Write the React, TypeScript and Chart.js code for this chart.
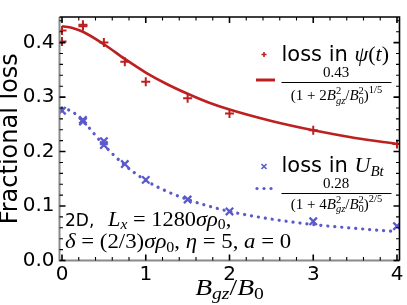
import { useEffect, useRef } from "react";
import { Chart, registerables } from "chart.js";

Chart.register(...registerables);

// Measured points (x = B_gz/B_0)
const psiX = [0, 0, 0.25, 0.25, 0.5, 0.75, 1, 1.5, 2, 3, 4];
const psiY = [0.402, 0.422, 0.430, 0.433, 0.400, 0.365, 0.328, 0.298, 0.270, 0.239, 0.214];
const ubtX = [0, 0.25, 0.25, 0.5, 0.5, 0.75, 1, 1.5, 2, 3, 4];
const ubtY = [0.275, 0.255, 0.258, 0.212, 0.219, 0.177, 0.148, 0.112, 0.090, 0.072, 0.063];

// Fit curves
const fitX = [0, 0.125, 0.25, 0.5, 0.75, 1, 1.25, 1.5, 1.75, 2, 2.5, 3, 3.5, 4];
const psiFit = [0.430, 0.427, 0.420, 0.397, 0.370, 0.345, 0.324, 0.306, 0.290, 0.277, 0.256, 0.239, 0.225, 0.214];
const ubtFit = [0.280, 0.273, 0.256, 0.212, 0.175, 0.147, 0.127, 0.112, 0.100, 0.090, 0.076, 0.066, 0.059, 0.053];

const xTicks = [0, 1, 2, 3, 4];
const xMinor = [0.2, 0.4, 0.6, 0.8, 1.2, 1.4, 1.6, 1.8, 2.2, 2.4, 2.6, 2.8, 3.2, 3.4, 3.6, 3.8];
const yTicks = [0, 0.1, 0.2, 0.3, 0.4];
const yMinor = [0.02, 0.04, 0.06, 0.08, 0.12, 0.14, 0.16, 0.18, 0.22, 0.24, 0.26, 0.28, 0.32, 0.34, 0.36, 0.38, 0.42, 0.44];

const RED = "#bd2020";
const BLUE = "#5a5acd";
const SANS = '"DejaVu Sans"';
const SERIF = '"Liberation Serif"';

const rm = (s: number) => `${s}px ${SERIF}`;
const it = (s: number) => `italic ${s}px ${SERIF}`;
const sans = (s: number) => `${s}px ${SANS}`;

type Run = { t: string; f: string; dy?: number; ov?: boolean };

function drawRuns(ctx: CanvasRenderingContext2D, x0: number, y: number, runs: Run[], align: string = "left", k: number = 1) {
  const ws = runs.map((r) => {
    ctx.font = r.f;
    return ctx.measureText(r.t).width * k;
  });
  const pos: number[] = [];
  let x = 0;
  let prevStart = 0;
  let prevW = 0;
  runs.forEach((r, i) => {
    if (r.ov) {
      pos.push(prevStart);
      prevW = Math.max(prevW, ws[i]);
      x = prevStart + prevW;
    } else {
      pos.push(x);
      prevStart = x;
      prevW = ws[i];
      x += ws[i];
    }
  });
  const off = align === "center" ? x0 - x / 2 : align === "right" ? x0 - x : x0;
  ctx.textBaseline = "alphabetic";
  ctx.textAlign = "left";
  runs.forEach((r, i) => {
    ctx.save();
    ctx.font = r.f;
    ctx.translate(off + pos[i], y + (r.dy || 0));
    ctx.scale(k, 1);
    ctx.fillText(r.t, 0, 0);
    ctx.restore();
  });
  return x;
}

const decor = {
  id: "decor",
  afterDatasetsDraw(chart: any) {
    const ctx: CanvasRenderingContext2D = chart.ctx;
    const { left, right, top, bottom } = chart.chartArea;
    const xs = chart.scales.x;
    const ys = chart.scales.y;
    ctx.save();

    // spines
    ctx.lineCap = "butt";
    ctx.strokeStyle = "#8a8a8a";
    ctx.lineWidth = 2;
    ctx.beginPath();
    ctx.moveTo(left, top);
    ctx.lineTo(left, bottom);
    ctx.lineTo(right, bottom);
    ctx.stroke();
    ctx.strokeStyle = "#000";
    ctx.lineWidth = 1.6;
    ctx.beginPath();
    ctx.moveTo(left, top);
    ctx.lineTo(right, top);
    ctx.lineTo(right, bottom);
    ctx.stroke();

    // inward ticks
    ctx.strokeStyle = "#000";
    const tick = (vals: number[], len: number, w: number) => {
      ctx.lineWidth = w;
      ctx.beginPath();
      vals.forEach((v) => {
        const px = xs.getPixelForValue(v);
        ctx.moveTo(px, bottom);
        ctx.lineTo(px, bottom - len);
        ctx.moveTo(px, top);
        ctx.lineTo(px, top + len);
      });
      ctx.stroke();
    };
    const tickY = (vals: number[], len: number, w: number) => {
      ctx.lineWidth = w;
      ctx.beginPath();
      vals.forEach((v) => {
        const py = ys.getPixelForValue(v);
        ctx.moveTo(left, py);
        ctx.lineTo(left + len, py);
        ctx.moveTo(right, py);
        ctx.lineTo(right - len, py);
      });
      ctx.stroke();
    };
    tick(xTicks, 6, 1.6);
    tick(xMinor, 3.5, 1.1);
    tickY(yTicks, 6, 1.6);
    tickY(yMinor, 3.5, 1.1);

    ctx.fillStyle = "#000";
    // y title
    ctx.save();
    ctx.translate(17, (top + bottom) / 2);
    ctx.rotate(-Math.PI / 2);
    ctx.font = sans(24);
    ctx.textAlign = "center";
    ctx.textBaseline = "alphabetic";
    ctx.fillText("Fractional loss", 0, 0);
    ctx.restore();

    // x title
    drawRuns(ctx, (left + right) / 2, 294.5, [
      { t: "B", f: it(24) },
      { t: "gz", f: it(17), dy: 4.5 },
      { t: "/", f: rm(24) },
      { t: "B", f: it(24) },
      { t: "0", f: rm(17), dy: 4.5 },
    ], "center", 1.15);

    // legend entry 1
    ctx.strokeStyle = RED;
    ctx.lineWidth = 1.6;
    ctx.beginPath();
    ctx.moveTo(261.5, 54.5);
    ctx.lineTo(266.5, 54.5);
    ctx.moveTo(264, 52);
    ctx.lineTo(264, 57);
    ctx.stroke();
    drawRuns(ctx, 281.5, 60.5, [
      { t: "loss in ", f: sans(21) },
      { t: "ψ", f: it(22) },
      { t: "(", f: rm(22) },
      { t: "t", f: it(22) },
      { t: ")", f: rm(22) },
    ]);
    ctx.lineWidth = 3;
    ctx.beginPath();
    ctx.moveTo(256, 80);
    ctx.lineTo(275, 80);
    ctx.stroke();
    drawRuns(ctx, 336, 77, [{ t: "0.43", f: rm(15) }], "center");
    ctx.strokeStyle = "#000";
    ctx.lineWidth = 1;
    ctx.beginPath();
    ctx.moveTo(281.5, 82.5);
    ctx.lineTo(391.5, 82.5);
    ctx.stroke();
    drawRuns(ctx, 336.5, 100, [
      { t: "(1 + 2", f: rm(15) },
      { t: "B", f: it(15) },
      { t: "2", f: rm(10.5), dy: -6 },
      { t: "gz", f: it(10.5), dy: 3.5, ov: true },
      { t: "/", f: rm(15) },
      { t: "B", f: it(15) },
      { t: "2", f: rm(10.5), dy: -6 },
      { t: "0", f: rm(10.5), dy: 3.5, ov: true },
      { t: ")", f: rm(15) },
      { t: "1/5", f: rm(10.5), dy: -7 },
    ], "center");

    // legend entry 2
    ctx.strokeStyle = BLUE;
    ctx.lineWidth = 1.6;
    ctx.beginPath();
    ctx.moveTo(261.5, 164);
    ctx.lineTo(266.5, 169);
    ctx.moveTo(266.5, 164);
    ctx.lineTo(261.5, 169);
    ctx.stroke();
    drawRuns(ctx, 281.5, 171.5, [
      { t: "loss in ", f: sans(21) },
      { t: "U", f: it(22) },
      { t: "Bt", f: it(15), dy: 4.5 },
    ]);
    ctx.fillStyle = BLUE;
    [257, 264, 271].forEach((dx) => {
      ctx.beginPath();
      ctx.arc(dx, 188.5, 1.6, 0, Math.PI * 2);
      ctx.fill();
    });
    ctx.fillStyle = "#000";
    drawRuns(ctx, 336, 188, [{ t: "0.28", f: rm(15) }], "center");
    ctx.strokeStyle = "#000";
    ctx.lineWidth = 1;
    ctx.beginPath();
    ctx.moveTo(281.5, 193.5);
    ctx.lineTo(391.5, 193.5);
    ctx.stroke();
    drawRuns(ctx, 336.5, 208.5, [
      { t: "(1 + 4", f: rm(15) },
      { t: "B", f: it(15) },
      { t: "2", f: rm(10.5), dy: -6 },
      { t: "gz", f: it(10.5), dy: 3.5, ov: true },
      { t: "/", f: rm(15) },
      { t: "B", f: it(15) },
      { t: "2", f: rm(10.5), dy: -6 },
      { t: "0", f: rm(10.5), dy: 3.5, ov: true },
      { t: ")", f: rm(15) },
      { t: "2/5", f: rm(10.5), dy: -7 },
    ], "center");

    // annotation
    drawRuns(ctx, 65, 225.5, [{ t: "2D,", f: sans(17) }]);
    drawRuns(ctx, 108, 225.5, [
      { t: "L", f: it(20) },
      { t: "x", f: it(14), dy: 3.5 },
      { t: " = 1280", f: rm(20) },
      { t: "σρ", f: it(20) },
      { t: "0", f: rm(14), dy: 3.5 },
      { t: ",", f: rm(20) },
    ], "left", 1.12);
    drawRuns(ctx, 65, 248, [
      { t: "δ", f: it(20) },
      { t: " = (2/3)", f: rm(20) },
      { t: "σρ", f: it(20) },
      { t: "0", f: rm(14), dy: 3.5 },
      { t: ", ", f: rm(20) },
      { t: "η", f: it(20) },
      { t: " = 5, ", f: rm(20) },
      { t: "a", f: it(20) },
      { t: " = 0", f: rm(20) },
    ], "left", 1.14);

    ctx.restore();
  },
};

export default function App() {
  const ref = useRef<HTMLCanvasElement | null>(null);
  useEffect(() => {
    document.body.style.margin = "0";
    const canvas = ref.current;
    if (!canvas) return;
    const chart = new Chart(canvas, {
      type: "scatter",
      data: {
        datasets: [
          {
            type: "line",
            data: fitX.map((x, i) => ({ x, y: psiFit[i] })),
            borderColor: RED,
            borderWidth: 2.6,
            pointRadius: 0,
            cubicInterpolationMode: "monotone",
            fill: false,
          } as any,
          {
            type: "line",
            data: fitX.map((x, i) => ({ x, y: ubtFit[i] })),
            borderColor: BLUE,
            borderWidth: 3.2,
            borderDash: [0.1, 6.9],
            borderCapStyle: "round",
            pointRadius: 0,
            cubicInterpolationMode: "monotone",
            fill: false,
          } as any,
          {
            data: psiX.map((x, i) => ({ x, y: psiY[i] })),
            pointStyle: "cross",
            pointRadius: 4.5,
            borderColor: RED,
            backgroundColor: RED,
            borderWidth: 2,
          },
          {
            data: ubtX.map((x, i) => ({ x, y: ubtY[i] })),
            pointStyle: "crossRot",
            pointRadius: 5.2,
            borderColor: BLUE,
            backgroundColor: BLUE,
            borderWidth: 2.3,
          },
        ],
      },
      options: {
        animation: false,
        responsive: false,
        devicePixelRatio: 1,
        layout: { padding: { top: 2.5, right: 4.5, left: 0, bottom: 0 } },
        plugins: { legend: { display: false }, tooltip: { enabled: false } },
        scales: {
          x: {
            type: "linear",
            min: -0.03,
            max: 4.03,
            grid: { display: false, drawTicks: false },
            border: { display: false },
            ticks: { font: { family: SANS, size: 20 }, color: "#000", padding: 2, maxRotation: 0, autoSkip: false },
            afterBuildTicks: (a: any) => {
              a.ticks = xTicks.map((v) => ({ value: v }));
            },
            afterFit: (s: any) => {
              s.height = 44.5;
            },
          },
          y: {
            type: "linear",
            min: 0,
            max: 0.447,
            grid: { display: false, drawTicks: false },
            border: { display: false },
            ticks: {
              font: { family: SANS, size: 20 },
              color: "#000",
              padding: 5,
              autoSkip: false,
              callback: (v: any) => Number(v).toFixed(1),
            },
            afterBuildTicks: (a: any) => {
              a.ticks = yTicks.map((v) => ({ value: v }));
            },
            afterFit: (s: any) => {
              s.width = 59.5;
            },
          },
        },
      } as any,
      plugins: [decor],
    });
    return () => chart.destroy();
  }, []);
  return (
    <div style={{ width: 407, height: 305, background: "#fff" }}>
      <canvas ref={ref} width={407} height={305} style={{ display: "block" }} />
    </div>
  );
}
